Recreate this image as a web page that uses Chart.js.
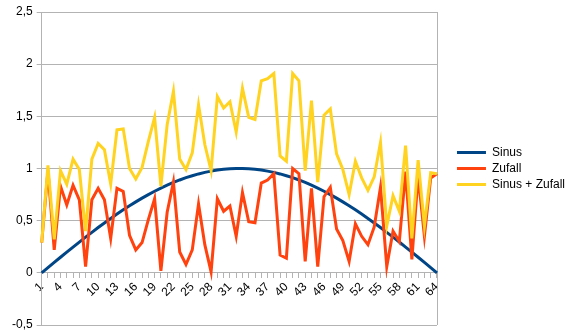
<!DOCTYPE html>
<html>
<head>
<meta charset="utf-8">
<script src="https://cdn.jsdelivr.net/npm/chart.js@4"></script>
<style>
  html, body { margin: 0; padding: 0; background: #fff; }
  canvas { display: block; }
</style>
</head>
<body>
<canvas id="chart" width="574" height="330"></canvas>
<script>
// category axis 1..64, labels shown every 3rd
const categories = [
  1, 2, 3, 4, 5, 6, 7, 8, 9, 10, 11, 12, 13, 14, 15, 16,
  17, 18, 19, 20, 21, 22, 23, 24, 25, 26, 27, 28, 29, 30, 31, 32,
  33, 34, 35, 36, 37, 38, 39, 40, 41, 42, 43, 44, 45, 46, 47, 48,
  49, 50, 51, 52, 53, 54, 55, 56, 57, 58, 59, 60, 61, 62, 63, 64
];

const sinus = [
  0.000, 0.050, 0.100, 0.149, 0.198, 0.247, 0.295, 0.342, 0.388, 0.434, 0.478, 0.521, 0.563, 0.604, 0.643, 0.680,
  0.716, 0.750, 0.782, 0.812, 0.840, 0.866, 0.890, 0.912, 0.931, 0.948, 0.963, 0.975, 0.985, 0.992, 0.997, 1.000,
  1.000, 0.997, 0.992, 0.985, 0.975, 0.963, 0.948, 0.931, 0.912, 0.890, 0.866, 0.840, 0.812, 0.782, 0.750, 0.716,
  0.680, 0.643, 0.604, 0.563, 0.521, 0.478, 0.434, 0.388, 0.342, 0.295, 0.247, 0.198, 0.149, 0.100, 0.050, 0.000
];

const zufall = [
  0.29, 0.98, 0.22, 0.83, 0.65, 0.84, 0.70, 0.06, 0.70, 0.81, 0.70, 0.33, 0.81, 0.78, 0.36, 0.22,
  0.29, 0.51, 0.71, 0.02, 0.58, 0.87, 0.20, 0.08, 0.22, 0.66, 0.27, 0.01, 0.71, 0.59, 0.64, 0.35,
  0.77, 0.49, 0.48, 0.86, 0.89, 0.95, 0.17, 0.14, 1.00, 0.95, 0.11, 0.81, 0.06, 0.73, 0.82, 0.42,
  0.31, 0.11, 0.47, 0.35, 0.27, 0.44, 0.82, 0.06, 0.40, 0.30, 0.97, 0.13, 0.93, 0.35, 0.91, 0.95
];

const sinusPlusZufall = [
  0.29, 1.03, 0.32, 0.98, 0.85, 1.09, 0.99, 0.40, 1.09, 1.24, 1.18, 0.85, 1.37, 1.38, 1.00, 0.90,
  1.01, 1.26, 1.49, 0.83, 1.42, 1.74, 1.09, 0.99, 1.15, 1.61, 1.23, 0.98, 1.69, 1.58, 1.64, 1.35,
  1.77, 1.49, 1.47, 1.84, 1.86, 1.91, 1.12, 1.07, 1.91, 1.84, 0.98, 1.65, 0.87, 1.51, 1.57, 1.14,
  0.99, 0.75, 1.07, 0.91, 0.79, 0.92, 1.25, 0.45, 0.74, 0.59, 1.22, 0.33, 1.08, 0.45, 0.96, 0.95
];

const yTicks = [-0.5, 0, 0.5, 1, 1.5, 2, 2.5];

const GRID = "#b3b3b3";
const FONT = { family: "'Liberation Sans', Arial, sans-serif", size: 12 };

// frame line on the right of the plot + push legend a bit away from the plot
const frame = {
  id: "frame",
  afterLayout(chart) {
    chart.legend.left += 16;
    chart.legend.right += 16;
  },
  beforeDatasetsDraw(chart) {
    const { ctx, chartArea: a } = chart;
    ctx.save();
    ctx.strokeStyle = GRID;
    ctx.lineWidth = 1;
    ctx.beginPath();
    ctx.moveTo(Math.round(a.right) + 0.5, a.top);
    ctx.lineTo(Math.round(a.right) + 0.5, a.bottom);
    ctx.stroke();
    ctx.restore();
  }
};

function line(label, data, color, order) {
  return { label, data, borderColor: color, backgroundColor: color, borderWidth: 3,
           pointRadius: 0, tension: 0, fill: false, order };
}

new Chart(document.getElementById("chart"), {
  type: "line",
  data: {
    labels: categories,
    datasets: [
      line("Sinus", sinus, "#004586", 3),
      line("Zufall", zufall, "#ff420e", 2),
      line("Sinus + Zufall", sinusPlusZufall, "#ffd320", 1)
    ]
  },
  options: {
    responsive: false,
    animation: false,
    devicePixelRatio: 1,
    layout: { autoPadding: false, padding: { left: 8, top: 12, bottom: 5, right: 15 } },
    plugins: {
      tooltip: { enabled: false },
      legend: {
        position: "right",
        labels: {
          usePointStyle: true,
          pointStyle: "line",
          pointStyleWidth: 29,
          boxHeight: 12,
          padding: 4,
          color: "#000",
          font: FONT,
          sort: (a, b) => a.datasetIndex - b.datasetIndex
        }
      }
    },
    scales: {
      x: {
        position: { y: 0 },
        offset: false,
        afterFit: s => { s.height = 0; s.paddingLeft = 0; s.paddingRight = 0; },
        grid: { drawOnChartArea: false, drawTicks: true, tickLength: 5, color: GRID },
        border: { color: GRID },
        ticks: {
          autoSkip: false,
          maxRotation: 45,
          minRotation: 45,
          padding: 2,
          color: "#000",
          font: FONT,
          callback: (v, i) => (i % 3 === 0 ? String(categories[i]) : "")
        }
      },
      y: {
        min: yTicks[0],
        max: yTicks[yTicks.length - 1],
        afterFit: s => { s.paddingTop = 0; s.paddingBottom = 0; },
        grid: { color: GRID, tickLength: 5 },
        border: { color: GRID },
        afterBuildTicks: s => { s.ticks = yTicks.map(v => ({ value: v })); },
        ticks: {
          padding: 4,
          color: "#000",
          font: FONT,
          callback: v => String(v).replace(".", ",")
        }
      }
    }
  },
  plugins: [frame]
});
</script>
</body>
</html>
